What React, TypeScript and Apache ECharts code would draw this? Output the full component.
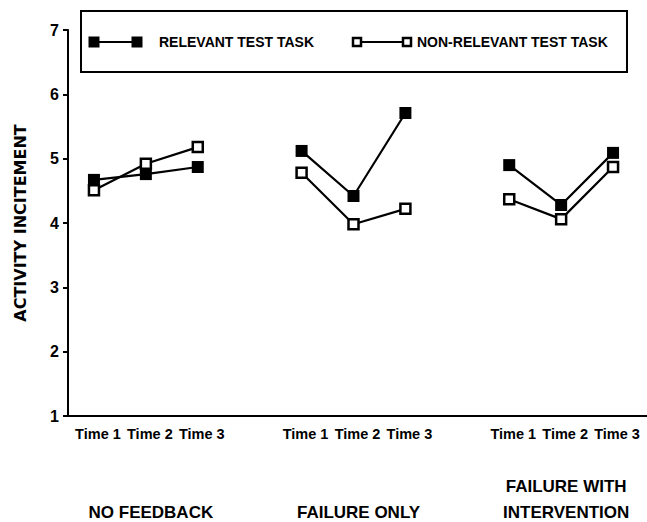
import React, { useEffect, useRef } from "react";
import * as echarts from "echarts";

const timeLabels = ["Time 1", "Time 2", "Time 3"];
const groupNames = ["NO FEEDBACK", "FAILURE ONLY", "FAILURE WITH\nINTERVENTION"];
const relevant = [
  [4.67, 4.76, 4.87],
  [5.12, 4.42, 5.71],
  [4.9, 4.28, 5.09],
];
const nonRelevant = [
  [4.51, 4.92, 5.18],
  [4.78, 3.98, 4.22],
  [4.37, 4.06, 4.87],
];
const yTicks = [1, 2, 3, 4, 5, 6, 7];
const seriesNames = ["RELEVANT TEST TASK", "NON-RELEVANT TEST TASK"];

const FONT = "Liberation Sans";
const TITLE_FONT = "DejaVu Sans";

// Build categories: 3 times per group with an empty gap category between groups
const categories: string[] = [];
const groupOfTime2: Record<number, number> = {};
groupNames.forEach((_, g) => {
  timeLabels.forEach((t, i) => {
    if (i === 1) groupOfTime2[categories.length] = g;
    categories.push(t);
  });
  if (g < groupNames.length - 1) categories.push("");
});

function flatten(groups: number[][]): (number | null)[] {
  const out: (number | null)[] = [];
  groups.forEach((vals, g) => {
    vals.forEach((v) => out.push(v));
    if (g < groups.length - 1) out.push(null);
  });
  return out;
}

export default function App() {
  const ref = useRef<HTMLDivElement>(null);
  useEffect(() => {
    if (!ref.current) return;
    const chart = echarts.init(ref.current, null, { renderer: "svg" });
    const option: any = {
      animation: false,
      backgroundColor: "#fff",
      grid: { left: 68, right: 8, top: 30, bottom: 106, containLabel: false },
      xAxis: {
        type: "category",
        data: categories,
        boundaryGap: true,
        axisLine: { lineStyle: { color: "#000", width: 2 } },
        axisTick: {
          alignWithLabel: true,
          length: 5,
          lineStyle: { color: "#000", width: 2 },
          interval: (_i: number, v: string) => v !== "",
        },
        axisLabel: {
          interval: 0,
          margin: 9,
          color: "#000",
          formatter: (v: string, idx: number) => {
            if (groupOfTime2[idx] !== undefined) {
              const lines = groupNames[groupOfTime2[idx]].split("\n");
              const l1 = lines.length > 1 ? lines[0] : " ";
              const l2 = lines.length > 1 ? lines[1] : lines[0];
              return `{t|${v}}\n{sp| }\n{g|${l1}}\n{g|${l2}}`;
            }
            return `{t|${v}}`;
          },
          rich: {
            t: { fontFamily: FONT, fontWeight: "bold", fontSize: 14.5, lineHeight: 18, color: "#000", padding: [0, 0, 0, 8] },
            sp: { fontSize: 10, lineHeight: 30 },
            g: { fontFamily: FONT, fontWeight: "bold", fontSize: 17, lineHeight: 26, color: "#000", padding: [0, 0, 0, 10] },
          },
        },
        splitLine: { show: false },
      },
      yAxis: {
        type: "value",
        min: yTicks[0],
        max: yTicks[yTicks.length - 1],
        interval: 1,
        name: "ACTIVITY INCITEMENT",
        nameLocation: "middle",
        nameRotate: 90,
        nameGap: 40,
        nameTextStyle: { fontFamily: TITLE_FONT, fontWeight: "bold", fontSize: 16, color: "#000" },
        axisLine: { show: true, lineStyle: { color: "#000", width: 2 } },
        axisTick: { show: true, length: 5, lineStyle: { color: "#000", width: 2 } },
        axisLabel: { fontFamily: FONT, fontWeight: "bold", fontSize: 16, color: "#000", margin: 9 },
        splitLine: { show: false },
      },
      series: [
        {
          name: seriesNames[0],
          type: "line",
          data: flatten(relevant),
          connectNulls: false,
          symbol: "rect",
          symbolSize: 12,
          lineStyle: { color: "#000", width: 2.2 },
          itemStyle: { color: "#000", borderColor: "#000", borderWidth: 0 },
          z: 2,
        },
        {
          name: seriesNames[1],
          type: "line",
          data: flatten(nonRelevant),
          connectNulls: false,
          symbol: "rect",
          symbolSize: 10,
          lineStyle: { color: "#000", width: 2.2 },
          itemStyle: { color: "#fff", borderColor: "#000", borderWidth: 2.5 },
          z: 3,
        },
      ],
      graphic: [
        { type: "line", shape: { x1: 638, y1: 416, x2: 647, y2: 416 }, style: { stroke: "#000", lineWidth: 2 }, z: 5 },
        {
          type: "rect",
          shape: { x: 81, y: 11, width: 546, height: 61 },
          style: { fill: "#fff", stroke: "#000", lineWidth: 2 },
          z: 10,
        },
        { type: "line", shape: { x1: 94, y1: 42, x2: 137, y2: 42 }, style: { stroke: "#000", lineWidth: 2 }, z: 11 },
        { type: "rect", shape: { x: 88.5, y: 36.5, width: 11, height: 11 }, style: { fill: "#000" }, z: 12 },
        { type: "rect", shape: { x: 131.5, y: 36.5, width: 11, height: 11 }, style: { fill: "#000" }, z: 12 },
        {
          type: "text",
          x: 159,
          y: 42,
          style: { text: seriesNames[0], fontFamily: FONT, fontWeight: "bold", fontSize: 14, fill: "#000", verticalAlign: "middle" },
          z: 12,
        },
        { type: "line", shape: { x1: 357, y1: 42, x2: 407, y2: 42 }, style: { stroke: "#000", lineWidth: 2 }, z: 11 },
        { type: "rect", shape: { x: 353, y: 38, width: 8, height: 8 }, style: { fill: "#fff", stroke: "#000", lineWidth: 2.5 }, z: 12 },
        { type: "rect", shape: { x: 403, y: 38, width: 8, height: 8 }, style: { fill: "#fff", stroke: "#000", lineWidth: 2.5 }, z: 12 },
        {
          type: "text",
          x: 417,
          y: 42,
          style: { text: seriesNames[1], fontFamily: FONT, fontWeight: "bold", fontSize: 14, fill: "#000", verticalAlign: "middle" },
          z: 12,
        },
      ],
    };
    chart.setOption(option);
    return () => chart.dispose();
  }, []);
  return (
    <div
      ref={ref}
      style={{ position: "absolute", left: 0, top: 0, width: 647, height: 522 }}
    />
  );
}
